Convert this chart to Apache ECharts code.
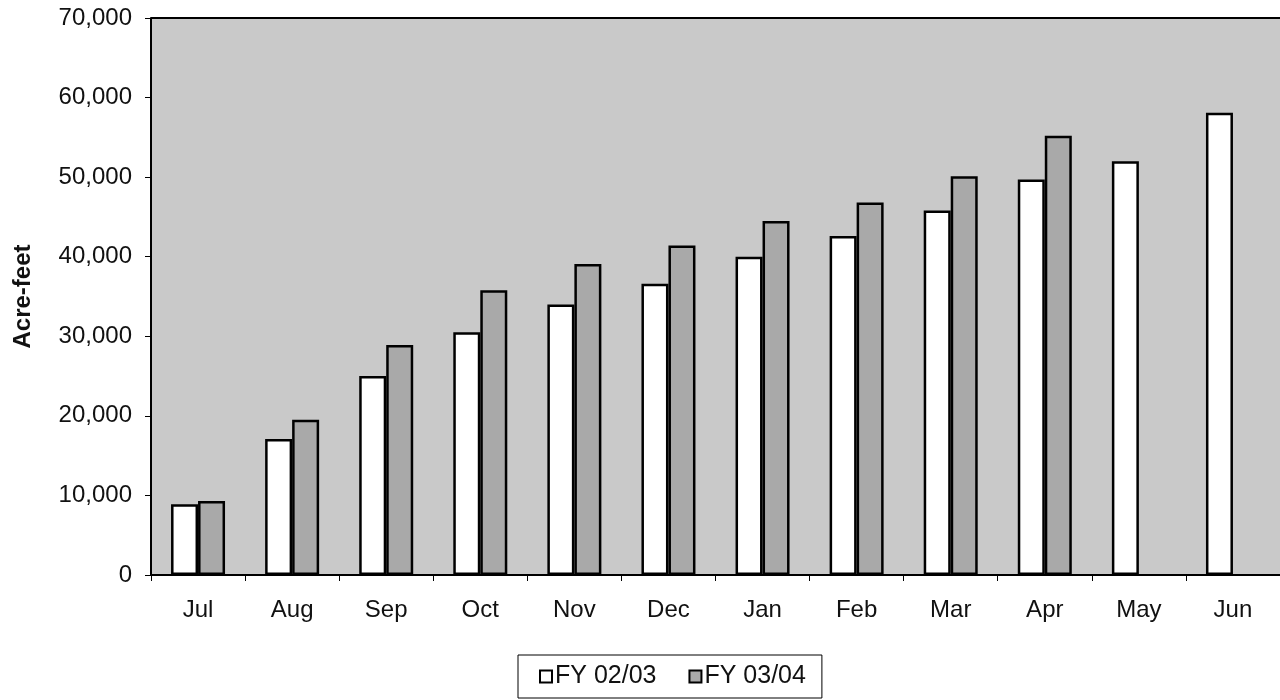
<!DOCTYPE html>
<html>
<head>
<meta charset="utf-8">
<script src="https://cdn.jsdelivr.net/npm/echarts@6/dist/echarts.min.js"></script>
<style>
  html, body { margin: 0; padding: 0; background: #fff; }
  #chart { width: 1280px; height: 700px; }
</style>
</head>
<body>
<div id="chart"></div>
<script>
var chart = echarts.init(document.getElementById('chart'));

// data
const months = ['Jul', 'Aug', 'Sep', 'Oct', 'Nov', 'Dec', 'Jan', 'Feb', 'Mar', 'Apr', 'May', 'Jun'];
const fy0203 = [8900, 17100, 25000, 30500, 34000, 36600, 40000, 42600, 45800, 49700, 52000, 58100];
const fy0304 = [9300, 19500, 28900, 35800, 39100, 41400, 44500, 46800, 50100, 55200, null, null];

const font = 'Arial, "Liberation Sans", sans-serif';

const option = {
  backgroundColor: '#ffffff',
  animation: false,
  textStyle: { fontFamily: font },
  grid: {
    left: 151,
    right: 0,
    top: 18,
    bottom: 125,
    show: true,
    backgroundColor: '#c9c9c9',
    borderColor: '#000',
    borderWidth: 0
  },
  legend: {
    left: 518,
    top: 655,
    icon: 'rect',
    itemWidth: 12,
    itemHeight: 12,
    itemGap: 32,
    padding: [9, 16, 9, 21],
    borderColor: '#000',
    borderWidth: 1,
    textStyle: { fontSize: 25, color: '#111', fontFamily: font, padding: [0, 0, 0, -2] },
    data: ['FY 02/03', 'FY 03/04']
  },
  xAxis: {
    type: 'category',
    data: months,
    axisLine: { lineStyle: { color: '#000', width: 2 } },
    axisTick: { show: true, length: 6, lineStyle: { color: '#000', width: 1 } },
    axisLabel: { fontSize: 24, color: '#111', margin: 23, fontFamily: font },
    splitLine: { show: false }
  },
  yAxis: {
    type: 'value',
    min: 0,
    max: 70000,
    interval: 10000,
    name: 'Acre-feet',
    nameLocation: 'middle',
    nameGap: 116,
    nameTextStyle: { fontSize: 24, fontWeight: 'bold', color: '#111', fontFamily: font },
    axisLine: { show: true, lineStyle: { color: '#000', width: 2 } },
    axisTick: { show: true, length: 6, lineStyle: { color: '#000' } },
    axisLabel: {
      fontSize: 24, color: '#111', margin: 19, fontFamily: font,
      formatter: function (v) { return v.toLocaleString('en-US'); }
    },
    splitLine: { show: false }
  },
  series: [{
    name: 'FY 02/03',
    type: 'bar',
    data: fy0203,
    barWidth: 27,
    barGap: '0%',
    itemStyle: { color: '#ffffff', borderColor: '#000', borderWidth: 2.5 }
  }, {
    name: 'FY 03/04',
    type: 'bar',
    data: fy0304,
    barWidth: 27,
    barGap: '0%',
    itemStyle: { color: '#a9a9a9', borderColor: '#000', borderWidth: 2.5 }
  }],
  graphic: [{
    type: 'line',
    shape: { x1: 151, y1: 18, x2: 1280, y2: 18 },
    style: { stroke: '#000', lineWidth: 2 }
  }]
};

chart.setOption(option);
</script>
</body>
</html>
